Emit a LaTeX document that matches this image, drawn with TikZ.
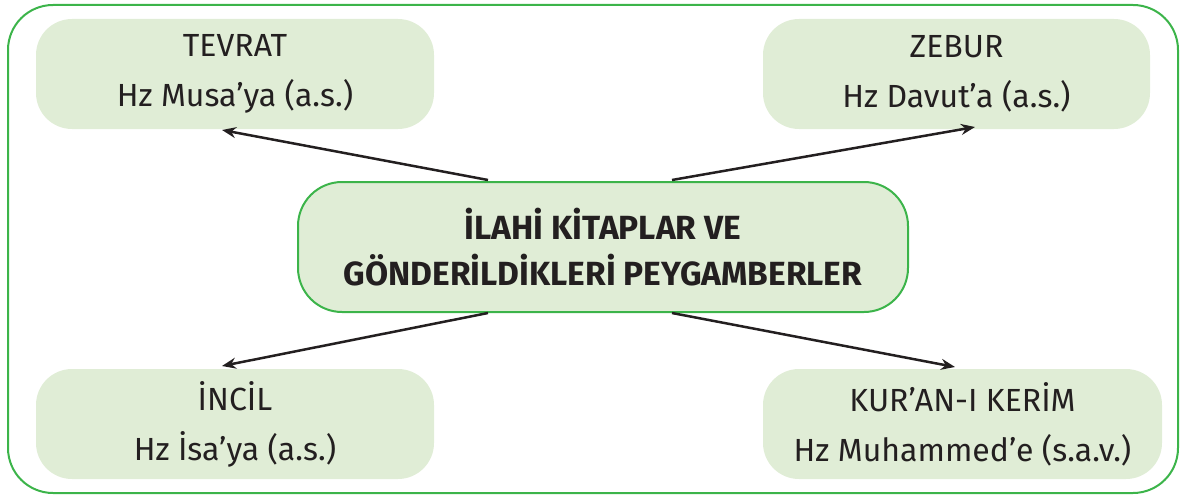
\documentclass[tikz,border=0pt]{standalone}
\usepackage{fontspec}
\setmainfont{Fira Sans}
\usetikzlibrary{arrows.meta}
\definecolor{boxfill}{RGB}{224,237,214}
\definecolor{framegreen}{RGB}{60,180,74}
\definecolor{ink}{RGB}{35,31,32}
\begin{document}
\begin{tikzpicture}[x=1pt,y=-1pt,
  leaf/.style={fill=boxfill, draw=none, rounded corners=36pt, minimum height=110pt, text=ink, align=center, font=\fontsize{32}{50}\selectfont, inner sep=0pt},
  hub/.style={fill=boxfill, draw=framegreen, line width=2pt, rounded corners=44pt, minimum width=610pt, minimum height=130pt, text=ink, align=center, font=\bfseries\fontsize{33.5}{46}\selectfont, inner sep=0pt},
  link/.style={draw=ink, line width=2.5pt, -{Stealth[length=14pt,width=11pt]}}]
\useasboundingbox (0,0) rectangle (1187,495);
\draw[framegreen, line width=2pt, rounded corners=45pt] (8,5) rectangle (1178,493);
\node[leaf, minimum width=398pt] (tevrat) at (235,74) {TEVRAT\\Hz Musa’ya (a.s.)};
\node[leaf, minimum width=387pt] (zebur) at (956.5,74) {ZEBUR\\Hz Davut’a (a.s.)};
\node[leaf, minimum width=398pt] (incil) at (235,424) {İNCİL\\Hz İsa’ya (a.s.)};
\node[leaf, minimum width=399pt] (kuran) at (962.5,424) {KUR’AN-I KERİM\\Hz Muhammed’e (s.a.v.)};
\node[hub] (hub) at (603,247) {İLAHİ KİTAPLAR VE\\GÖNDERİLDİKLERİ PEYGAMBERLER};
\coordinate (a1) at (488,180);
\coordinate (a2) at (672,180);
\coordinate (a3) at (488,313);
\coordinate (a4) at (672,313);
\coordinate (t1) at (222,130);
\coordinate (t2) at (975,127);
\coordinate (t3) at (222,366);
\coordinate (t4) at (955,367);
\draw[link] (a1) -- (t1);
\draw[link] (a2) -- (t2);
\draw[link] (a3) -- (t3);
\draw[link] (a4) -- (t4);
\end{tikzpicture}
\end{document}
